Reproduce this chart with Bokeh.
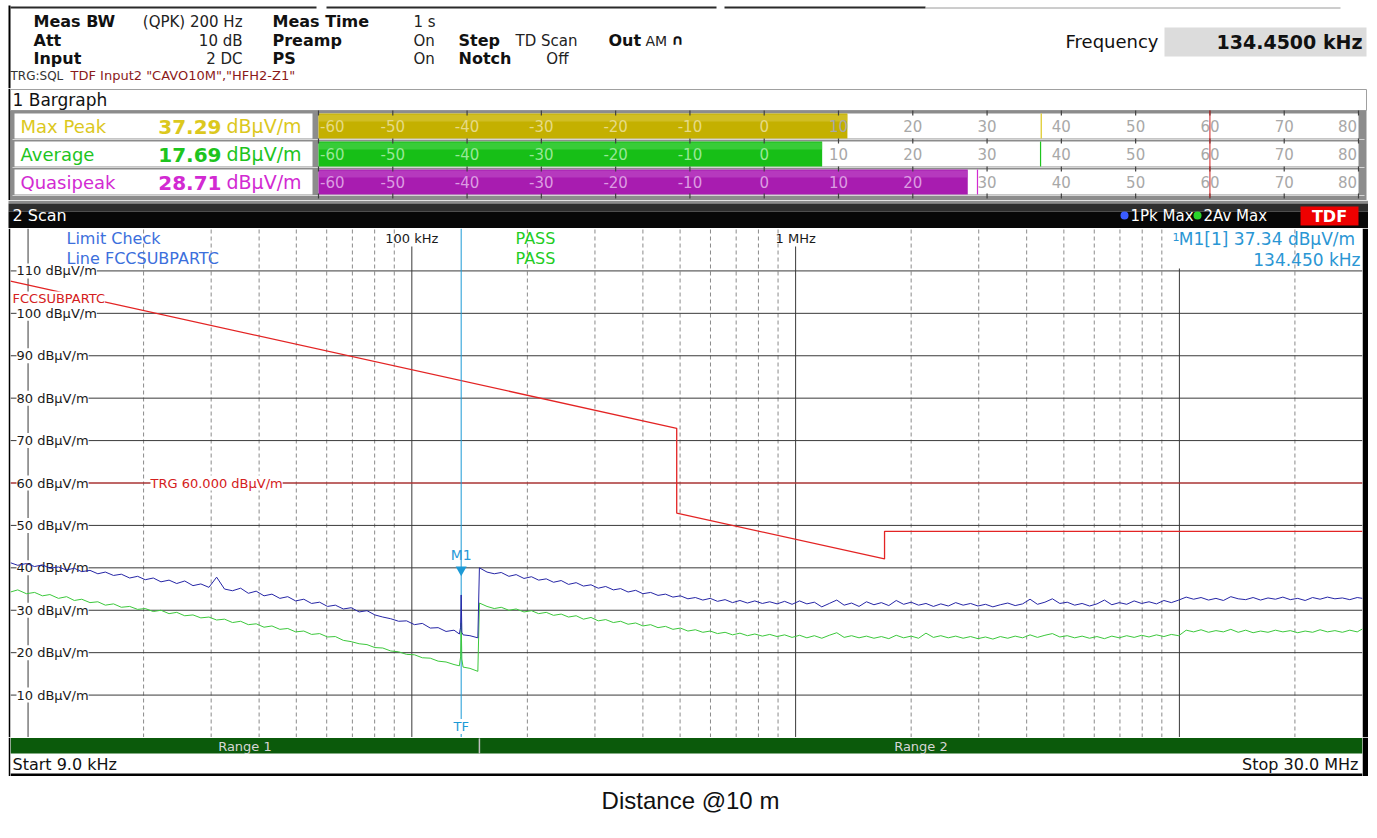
import numpy as np
from bokeh.plotting import figure
from bokeh.layouts import column
from bokeh.layouts import row as brow
from bokeh.models import Range1d, Label
from bokeh.core.properties import value
from bokeh.embed import file_html
from bokeh.resources import INLINE

# ------------------------------------------------------------------ data
# Range 1 (9 kHz .. 150 kHz) sweep points, kHz
r1_freq_khz = [9.0, 9.4, 9.9, 10.4, 10.9, 11.4, 12.0, 12.6, 13.2, 13.8,
               14.5, 15.2, 15.9, 16.7, 17.5, 18.4, 19.3, 20.2, 21.2, 22.2,
               23.3, 24.4, 25.6, 26.9, 28.2, 29.6, 31.0, 32.5, 34.1, 35.8,
               37.5, 39.3, 41.2, 43.2, 45.3, 47.5, 49.8, 52.3, 54.8, 57.5,
               60.3, 63.2, 66.3, 69.5, 72.9, 76.4, 80.1, 84.0, 88.1, 92.4,
               96.9, 101.6, 106.5, 111.7, 117.1, 122.8, 128.8, 133.0, 134.0, 134.45,
               135.0, 136.0, 141.7, 148.6]
r1_pk = [41.2, 40.6, 41.0, 40.3, 40.7, 39.9, 40.2, 39.5, 39.9, 39.1,
         39.4, 38.6, 39.0, 38.2, 38.5, 37.6, 38.0, 37.2, 37.6, 36.7,
         37.1, 36.3, 36.9, 35.8, 36.2, 35.4, 37.8, 35.0, 34.6, 35.2,
         34.0, 34.5, 33.4, 33.8, 32.8, 33.2, 32.2, 32.6, 31.6, 31.9,
         30.9, 31.2, 30.3, 30.6, 29.6, 29.9, 28.9, 28.4, 28.0, 27.4,
         27.5, 26.6, 26.9, 25.8, 25.9, 25.0, 25.3, 24.4, 26.0, 33.6,
         24.8, 24.2, 24.0, 23.5]
r1_av = [34.3, 34.8, 33.9, 34.2, 33.4, 33.7, 32.8, 33.2, 32.3, 32.6,
         31.8, 32.0, 31.2, 31.5, 30.7, 30.9, 30.2, 30.4, 29.7, 30.0,
         29.2, 29.5, 28.7, 28.9, 28.2, 28.4, 27.7, 27.9, 27.1, 27.4,
         26.6, 26.8, 26.0, 26.3, 25.5, 25.7, 24.9, 25.1, 24.3, 24.5,
         23.7, 23.8, 22.9, 22.6, 22.1, 21.9, 21.2, 21.1, 20.4, 20.2,
         19.6, 19.5, 18.8, 18.7, 18.0, 17.8, 17.2, 16.9, 19.0, 27.0,
         18.5, 16.6, 16.3, 15.6]

# Range 2 (150 kHz .. 30 MHz) sweep points, kHz
r2_freq_khz = [150, 157, 164, 171, 179, 187, 196, 205, 214, 224,
               234, 245, 256, 268, 280, 293, 306, 320, 335, 350,
               366, 383, 400, 419, 438, 458, 479, 501, 524, 548,
               573, 599, 626, 655, 685, 716, 749, 783, 819, 856,
               895, 936, 979, 1024, 1070, 1119, 1170, 1224, 1280, 1338,
               1399, 1463, 1530, 1600, 1673, 1749, 1829, 1912, 2000, 2091,
               2186, 2286, 2390, 2499, 2613, 2732, 2857, 2987, 3124, 3266,
               3415, 3571, 3734, 3904, 4082, 4268, 4463, 4667, 4880, 5102,
               5335, 5578, 5833, 6099, 6377, 6668, 6972, 7290, 7623, 7971,
               8334, 8714, 9112, 9528, 9962, 10417, 10892, 11389, 11908, 12452,
               13020, 13614, 14235, 14884, 15563, 16273, 17016, 17792, 18604, 19452,
               20340, 21268, 22238, 23253, 24313, 25422, 26582, 27795, 29063, 30000]
r2_pk = [40.0, 39.0, 38.6, 38.9, 38.0, 38.4, 37.5, 37.9, 37.1, 37.4,
         36.6, 37.0, 36.1, 36.5, 35.7, 36.0, 35.2, 35.6, 34.8, 35.1,
         34.3, 34.7, 33.9, 34.2, 33.5, 33.8, 33.1, 33.4, 32.7, 33.0,
         32.4, 32.8, 32.1, 32.5, 31.8, 32.3, 31.7, 32.2, 31.6, 32.0,
         31.5, 32.1, 31.4, 32.2, 31.5, 31.9, 30.8, 31.6, 32.4, 31.2,
         31.7, 30.9, 32.0, 31.3, 31.8, 31.1, 32.3, 31.4, 31.9, 31.2,
         31.6, 30.9, 31.5, 31.0, 31.8, 31.2, 31.6, 31.0, 31.4, 30.8,
         31.3, 31.7, 31.1, 31.5, 32.6, 31.4, 31.9, 32.7, 31.6, 31.9,
         31.2, 31.6, 31.0, 31.5, 32.4, 31.3, 31.8, 31.4, 32.2, 31.6,
         32.0, 31.5, 32.3, 31.8, 32.4, 33.1, 32.6, 33.0, 32.4, 32.8,
         32.3, 33.2, 32.7, 32.5, 33.0, 32.4, 32.9, 32.6, 33.1, 32.5,
         32.8, 32.3, 33.0, 32.6, 33.1, 32.7, 32.9, 32.5, 33.0, 32.8]
r2_av = [31.7, 30.9, 30.4, 30.7, 30.0, 30.3, 29.6, 29.9, 29.2, 29.5,
         28.8, 29.1, 28.4, 28.7, 27.9, 28.3, 27.5, 27.8, 27.1, 27.4,
         26.7, 27.0, 26.3, 26.6, 25.9, 26.2, 25.5, 25.8, 25.1, 25.4,
         24.8, 25.1, 24.5, 24.8, 24.2, 24.6, 24.0, 24.4, 23.9, 24.3,
         23.8, 24.2, 23.6, 24.1, 23.5, 24.0, 23.4, 24.1, 24.7, 23.6,
         24.0, 23.5, 23.9, 23.4, 23.8, 23.3, 24.1, 23.5, 23.9, 23.4,
         24.6, 23.6, 24.0, 23.5, 23.9, 23.4, 23.8, 23.3, 23.7, 23.2,
         23.8, 23.4, 23.9, 23.5, 24.2, 23.6, 24.1, 24.5, 23.7, 24.0,
         23.5, 23.9, 23.4, 23.8, 23.3, 23.9, 23.5, 24.0, 23.6, 24.1,
         23.7, 24.2, 23.8, 24.3, 24.0, 25.3, 24.9, 25.4, 24.8, 25.2,
         24.9, 25.5, 24.8, 25.3, 24.7, 25.1, 24.8, 25.3, 24.9, 25.2,
         24.7, 25.1, 24.8, 25.4, 24.9, 25.2, 24.8, 25.3, 24.9, 25.6]

# FCC Subpart C limit line (10 m), kHz / dBuV/m
limit_freq_khz = [9, 490, 490, 1705, 1705, 30000]
limit_db = [107.6, 72.9, 52.9, 42.1, 48.6, 48.6]
trg_level = 60.0
marker_freq_khz = 134.45
marker_level = 37.34
y_ticks = [10, 20, 30, 40, 50, 60, 70, 80, 90, 100, 110]
decade_khz = [10, 100, 1000, 10000]
range_names = ["Range 1", "Range 2"]
range_edges_khz = [9.0, 150.0, 30000.0]

# Bargraph
bar_names = ["Max Peak", "Average", "Quasipeak"]
bar_readings = [37.29, 17.69, 28.71]
bar_levels = [11.2, 7.8, 27.4]
bar_hold = [37.29, 37.2, 28.71]
bar_ticks = [-60, -50, -40, -30, -20, -10, 0, 10, 20, 30, 40, 50, 60, 70, 80]

assert len(r1_freq_khz) == len(r1_pk) == len(r1_av)
assert len(r2_freq_khz) == len(r2_pk) == len(r2_av)

# ------------------------------------------------------------------ helpers
FONT = "DejaVu Sans"
X0 = 0
W = 1368


def chrome(y0, y1, bg="white"):
    return figure(width=W, height=y1 - y0, x_range=Range1d(X0, X0 + W), y_range=Range1d(y1, y0),
                  x_axis_type=None, y_axis_type=None, output_backend="svg", toolbar_location=None,
                  min_border=0, outline_line_color=None, background_fill_color=bg, border_fill_color=bg)


def txt(p, x, y, s, size=16, color="black", bold=False, align="left", font=FONT, alpha=1.0):
    p.text(x=[x], y=[y], text=[s], text_font=value(font), text_font_size=f"{size}px",
           text_color=color, text_alpha=alpha, text_font_style="bold" if bold else "normal",
           text_align=align, text_baseline="middle")


# ------------------------------------------------------------------ header
A = chrome(0, 88)
A.quad(left=[8], right=[10], top=[5], bottom=[88], fill_color="black", line_color=None)
A.segment(x0=[10, 326, 724], x1=[316, 716, 925], y0=[7, 7, 7], y1=[7, 7, 7], line_color="#2a2a2a", line_width=2)
A.segment(x0=[925], x1=[1340], y0=[7.5], y1=[7.5], line_color="#9a9a9a", line_width=1)
r1y, r2y, r3y, r4y = 21, 40, 58, 75
txt(A, 33, r1y, "Meas BW", 16, "#111", True)
txt(A, 33, r2y, "Att", 16, "#111", True)
txt(A, 33, r3y, "Input", 16, "#111", True)
txt(A, 242, r1y, "(QPK) 200 Hz", 15, "#222", align="right")
txt(A, 242, r2y, "10 dB", 15, "#222", align="right")
txt(A, 242, r3y, "2 DC", 15, "#222", align="right")
txt(A, 272, r1y, "Meas Time", 16, "#111", True)
txt(A, 272, r2y, "Preamp", 16, "#111", True)
txt(A, 272, r3y, "PS", 16, "#111", True)
txt(A, 413, r1y, "1 s", 15, "#222")
txt(A, 413, r2y, "On", 15, "#222")
txt(A, 413, r3y, "On", 15, "#222")
txt(A, 458, r2y, "Step", 16, "#111", True)
txt(A, 458, r3y, "Notch", 16, "#111", True)
txt(A, 515, r2y, "TD Scan", 15, "#222")
txt(A, 568, r3y, "Off", 15, "#222", align="right")
txt(A, 608, r2y, "Out", 16, "#111", True)
txt(A, 645, r2y, "AM", 14, "#222")
txt(A, 671, r2y - 1, "\u2229", 15, "#111", True)
txt(A, 10, r4y, "TRG:SQL", 12, "#333")
txt(A, 70, r4y, 'TDF Input2 "CAVO10M","HFH2-Z1"', 13, "#8b1a1a")
A.quad(left=[1164], right=[1366], top=[27], bottom=[56], fill_color="#dcdcdc", line_color=None)
txt(A, 1158, 41, "Frequency", 18, "#111", align="right")
txt(A, 1362, 41, f"{marker_freq_khz:.4f} kHz", 19, "#111", True, align="right")

# ------------------------------------------------------------------ bargraph
k = 1040.0 / 140.0


def bx(px):
    return -60 + (px - 318) / k


B = figure(width=W, height=112, x_range=Range1d(bx(X0), bx(X0 + W)), y_range=Range1d(200, 88),
           x_axis_type=None, y_axis_type=None, output_backend="svg", toolbar_location=None,
           min_border=0, outline_line_color=None, background_fill_color="white", border_fill_color="white")
B.quad(left=[bx(8)], right=[bx(10)], top=[88], bottom=[200], fill_color="black", line_color=None)
B.quad(left=[bx(10)], right=[bx(1366)], top=[89], bottom=[110], fill_color="white", line_color="#a0a0a0")
txt(B, bx(12), 99.5, "1 Bargraph", 17, "#111")
B.quad(left=[bx(10)], right=[bx(1366)], top=[110], bottom=[200], fill_color="#8c8c8c", line_color=None)

row_top = [113 + 28 * i for i in range(3)]
row_h = 25
row_c = [t + row_h / 2 for t in row_top]
name_col = ["#dcc81e", "#1ec41e", "#d22ad2"]
bar_col = ["#c4b000", "#17bf17", "#a81cb0"]
bar_hi = ["#d8c83c", "#4fd64f", "#c04cc8"]
lab_on = ["#e6da86", "#98e898", "#dc9ce2"]

for t in row_top:
    B.segment(x0=[bx(12)], x1=[bx(1364)], y0=[t + row_h + 1], y1=[t + row_h + 1], line_color="#d4d4d4", line_width=1)
B.quad(left=[bx(14)] * 3, right=[bx(312)] * 3, top=row_top, bottom=[t + row_h for t in row_top],
       fill_color="white", line_color=None)
B.quad(left=[-60] * 3, right=[80] * 3, top=row_top, bottom=[t + row_h for t in row_top],
       fill_color="white", line_color=None)
B.hbar(y=row_c, left=-60, right=bar_levels, height=row_h, fill_color=bar_col, line_color=None)
B.hbar(y=[c - 8 for c in row_c], left=-60, right=bar_levels, height=7, fill_color=bar_hi,
       fill_alpha=0.6, line_color=None)

for i in range(3):
    xs, ys, ts, cs, al = [], [], [], [], []
    for tv in bar_ticks:
        ts.append(str(tv))
        ys.append(row_c[i])
        cs.append(lab_on[i] if tv < bar_levels[i] - 2 else "#a8a8a8")
        if tv == bar_ticks[0]:
            xs.append(tv + 0.2)
            al.append("left")
        elif tv == bar_ticks[-1]:
            xs.append(tv - 0.2)
            al.append("right")
        else:
            xs.append(tv)
            al.append("center")
    B.text(x=xs, y=ys, text=ts, text_color=cs, text_align=al, text_baseline="middle",
           text_font=value(FONT), text_font_size="15px")
    txt(B, bx(20), row_c[i], bar_names[i], 18, name_col[i])
    txt(B, bx(221), row_c[i] + 0.5, f"{bar_readings[i]:.2f}", 20, name_col[i], True, align="right")
    txt(B, bx(226), row_c[i], "dB\u00b5V/m", 19, name_col[i])

# tick marks
tk_x, tk_y0, tk_y1 = [], [], []
for t in row_top + [row_top[-1] + row_h + 2]:
    for tv in bar_ticks:
        tk_x.append(tv)
        tk_y0.append(t - 3)
        tk_y1.append(t + 2)
B.segment(x0=tk_x, x1=tk_x, y0=tk_y0, y1=tk_y1, line_color="#404040", line_width=1.2)
B.segment(x0=bar_hold, x1=bar_hold, y0=row_top, y1=[t + row_h for t in row_top],
          line_color=name_col, line_width=1.2)
B.segment(x0=[trg_level], x1=[trg_level], y0=[110], y1=[197], line_color="#d02020", line_width=1)

# ------------------------------------------------------------------ scan title bar
C = chrome(200, 228, bg="white")
C.quad(left=[8], right=[1368], top=[200], bottom=[203], fill_color="#8c8c8c", line_color=None)
C.quad(left=[8], right=[1368], top=[203], bottom=[211], fill_color="#2e2e2e", line_color=None)
C.quad(left=[8], right=[1368], top=[211], bottom=[228], fill_color="#070707", line_color=None)
txt(C, 12, 215, "2 Scan", 16, "white")
C.scatter(x=[1124], y=[215], size=8, marker="circle", fill_color="#3a5cff", line_color=None)
txt(C, 1130, 215, "1Pk Max", 15, "white")
C.scatter(x=[1197], y=[215], size=8, marker="circle", fill_color="#2ad42a", line_color=None)
txt(C, 1203, 215, "2Av Max", 15, "white")
C.quad(left=[1300], right=[1358], top=[206], bottom=[225], fill_color="#ee0000", line_color=None)
txt(C, 1329, 215.5, "TDF", 16, "white", True, align="center")

# ------------------------------------------------------------------ scan plot
L, R, T, BT = 10, 1362, 228, 737
F0, F1 = 9e3, 30e6


def fx(px):
    return 10 ** (np.log10(F0) + (px - L) / (R - L) * np.log10(F1 / F0))


def dy(py):
    return 120.0 * (BT - py) / (BT - T)


D_xr = Range1d(F0, F1)


def scan_like(height, y_range, bg="white"):
    p = figure(width=W - 8, height=height, x_axis_type="log", x_range=D_xr, y_range=y_range,
               x_axis_location=None, y_axis_location=None, output_backend="svg", toolbar_location=None,
               min_border_left=L - 8, min_border_right=X0 + W - R, min_border_top=0, min_border_bottom=0,
               border_fill_color="black", background_fill_color=bg, outline_line_color=None)
    p.grid.visible = False
    return p


D = scan_like(BT - T, Range1d(0, 120))

minor = [m * d * 1e3 for d in decade_khz for m in range(2, 10) if m * d * 1e3 < F1]
D.segment(x0=minor, x1=minor, y0=0, y1=120, line_color="#8a8a8a", line_width=1,
          line_dash="4 3", level="image")
dec_hz = [d * 1e3 for d in decade_khz]
dec_top = [120, dy(246), dy(246), dy(268)]
D.segment(x0=dec_hz, x1=dec_hz, y0=0, y1=dec_top, line_color="#3a3a3a", line_width=1, level="image")
D.segment(x0=F0, x1=F1, y0=y_ticks, y1=y_ticks, line_color="#3a3a3a", line_width=1, level="image")
D.segment(x0=[F0], x1=[F1], y0=[trg_level], y1=[trg_level], line_color="#e03030", line_width=1, level="image")
D.line(x=[f * 1e3 for f in limit_freq_khz], y=limit_db, line_color="#e32424", line_width=1.3, level="image")
mk = marker_freq_khz * 1e3
D.segment(x0=[mk], x1=[mk], y0=[0], y1=[120], line_color="#1c9ad6", line_width=1, level="image")

for v in y_ticks:
    D.add_layout(Label(x=fx(16), y=v, text=f"{v} dB\u00b5V/m", text_font=FONT, text_font_size="13px",
                       text_color="#1a1a1a", text_baseline="middle", background_fill_color="white",
                       level="underlay"))
D.add_layout(Label(x=fx(12), y=limit_db[0] - 4.2, text="FCCSUBPARTC", text_font=FONT, text_font_size="13px",
                   text_color="#d42020", text_baseline="middle", background_fill_color="white",
                   level="underlay"))
D.add_layout(Label(x=fx(150), y=trg_level, text=f"TRG {trg_level:.3f} dB\u00b5V/m", text_font=FONT,
                   text_font_size="13px", text_color="#d42020", text_baseline="middle",
                   background_fill_color="white", level="underlay"))
D.add_layout(Label(x=mk, y=dy(726), text="TF", text_font=FONT, text_font_size="13px",
                   text_color="#1c9ad6", text_baseline="middle", text_align="center",
                   background_fill_color="white", level="underlay"))
for d, s in [(100, "100 kHz"), (1000, "1 MHz")]:
    D.text(x=[d * 1e3], y=[dy(238)], text=[s], text_font=value(FONT), text_font_size="13px",
           text_color="#1a1a1a", text_align="center", text_baseline="middle")

freq_hz = [f * 1e3 for f in r1_freq_khz + r2_freq_khz]
D.line(x=freq_hz, y=r1_av + r2_av, line_color="#3cc83c", line_width=1)
D.line(x=freq_hz, y=r1_pk + r2_pk, line_color="#2626a6", line_width=1)

D.scatter(x=[mk], y=[marker_level + 2.2], marker="inverted_triangle", size=11,
          fill_color="#1c9ad6", line_color=None)
D.text(x=[mk], y=[marker_level + 5.6], text=["M1"], text_font=value(FONT), text_font_size="14px",
       text_color="#2a9ad8", text_align="center", text_baseline="middle")

D.text(x=[fx(66)], y=[dy(238)], text=["Limit Check"], text_font=value(FONT), text_font_size="16px",
       text_color="#3c6fdc", text_baseline="middle")
D.text(x=[fx(66)], y=[dy(258)], text=["Line FCCSUBPARTC"], text_font=value(FONT), text_font_size="16px",
       text_color="#3c6fdc", text_baseline="middle")
D.text(x=[fx(515), fx(515)], y=[dy(238), dy(258)], text=["PASS", "PASS"], text_font=value(FONT),
       text_font_size="16px", text_color="#22cc22", text_baseline="middle")
D.text(x=[fx(1360)], y=[dy(238)], text=[f"M1[1]  {marker_level:.2f} dB\u00b5V/m"], text_font=value(FONT),
       text_font_size="17px", text_color="#2a96d4", text_align="right", text_baseline="middle")
D.text(x=[fx(1360)], y=[dy(259)], text=[f"{marker_freq_khz:.3f} kHz"], text_font=value(FONT),
       text_font_size="17px", text_color="#2a96d4", text_align="right", text_baseline="middle")
D.text(x=[fx(1172)], y=[dy(236)], text=["1"], text_font=value(FONT),
       text_font_size="11px", text_color="#2a96d4", text_align="left", text_baseline="middle")

# ------------------------------------------------------------------ range bar / start-stop
E = scan_like(39, Range1d(776, 737))
r_left = [f * 1e3 for f in range_edges_khz[:-1]]
r_right = [f * 1e3 for f in range_edges_khz[1:]]
E.quad(left=r_left, right=r_right, top=737.5, bottom=753, fill_color="#0b5a0b", line_color=None)
E.segment(x0=r_right[:-1], x1=r_right[:-1], y0=738, y1=753, line_color="#c0c0c0", line_width=1.5)
r_mid = [np.sqrt(a * b) for a, b in zip(r_left, r_right)]
E.text(x=r_mid, y=745.5, text=range_names, text_font=value(FONT), text_font_size="13px",
       text_color="#d6d6d6", text_align="center", text_baseline="middle")
E.quad(left=[F0], right=[F1], top=[773], bottom=[776], fill_color="black", line_color=None)
E.text(x=[fx(12)], y=[763.5], text=[f"Start {range_edges_khz[0]:.1f} kHz"], text_font=value(FONT),
       text_font_size="16px", text_color="#111", text_baseline="middle")
E.text(x=[fx(1358)], y=[763.5], text=[f"Stop {range_edges_khz[-1] / 1000:.1f} MHz"], text_font=value(FONT),
       text_font_size="16px", text_color="#111", text_align="right", text_baseline="middle")

# ------------------------------------------------------------------ caption
Fc = chrome(776, 834)
txt(Fc, 690, 800, "Distance @10 m", 24, "#111", align="center", font="Liberation Sans")


def spacer(h):
    return figure(width=8, height=h, x_axis_type=None, y_axis_type=None, output_backend="svg",
                  toolbar_location=None, min_border=0, outline_line_color=None,
                  background_fill_color="white", border_fill_color="white")


page = column(A, B, C, brow(spacer(BT - T), D, spacing=0), brow(spacer(39), E, spacing=0), Fc, spacing=0)
open("out.html", "w").write(file_html(page, INLINE))
